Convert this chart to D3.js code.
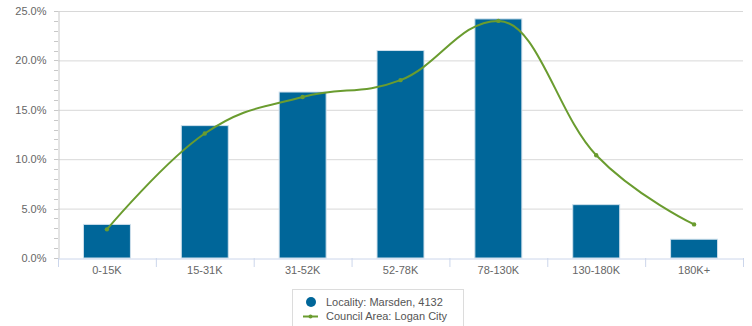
<!DOCTYPE html>
<html><head><meta charset="utf-8">
<script src="https://cdn.jsdelivr.net/npm/d3@7"></script>
<style>body{margin:0;background:#fff}svg{display:block;font-family:"Liberation Sans",Arial,sans-serif}</style>
</head><body><svg id="c" width="752" height="326"></svg>
<script>
const categories = ["0-15K","15-31K","31-52K","52-78K","78-130K","130-180K","180K+"];
const localityValues = [3.4,13.4,16.8,21.0,24.2,5.4,1.9];
const councilValues = [2.9,12.6,16.3,18.0,24.0,10.4,3.4];
const yTicks = [0,5,10,15,20,25];
const seriesNames = ["Locality: Marsden, 4132","Council Area: Logan City"];

const svg = d3.select("#c");
const L = 58, R = 743, T = 11, B = 258;
const x = d3.scaleBand().domain(categories).range([L,R]).paddingInner(0.52).paddingOuter(0.26);
const xb = d3.scaleBand().domain(categories).range([L,R]);
const y = d3.scaleLinear().domain([0,25]).range([B,T]);

// gridlines
svg.append("g").selectAll("line").data(yTicks.filter(d=>d>0)).join("line")
  .attr("x1",L).attr("x2",R).attr("y1",d=>y(d)+0.5).attr("y2",d=>y(d)+0.5)
  .attr("stroke","#d8d8d8").attr("stroke-width",1);

// y axis
const yAxis = d3.axisLeft(y).tickValues(yTicks).tickFormat(d=>d.toFixed(1)+"%").tickSize(0).tickPadding(12);
const gy = svg.append("g").attr("transform",`translate(${L+0.5},0)`).call(yAxis);
gy.select(".domain").attr("stroke","#c8c8c8");
gy.selectAll("text").attr("fill","#666").attr("font-size","11px");
// minor ticks
const minor = d3.range(0,25.01,1);
svg.append("g").selectAll("line").data(minor).join("line")
  .attr("x1",L-4).attr("x2",L).attr("y1",d=>Math.round(y(d))+0.5).attr("y2",d=>Math.round(y(d))+0.5)
  .attr("stroke","#c8c8c8");

// bars
svg.append("g").selectAll("rect").data(categories).join("rect")
  .attr("x",d=>x(d)).attr("width",x.bandwidth())
  .attr("y",(d,i)=>y(localityValues[i])).attr("height",(d,i)=>B-y(localityValues[i]))
  .attr("fill","#006699").attr("stroke","#cfe0ec").attr("stroke-width",1);

// x axis
const gx = svg.append("g").attr("transform",`translate(0,${B+0.5})`)
  .call(d3.axisBottom(xb).tickSize(0).tickPadding(8));
gx.select(".domain").attr("stroke","#ccd6eb");
gx.selectAll("text").attr("fill","#666").attr("font-size","11px");
svg.append("g").selectAll("line").data(categories.concat(["end"])).join("line")
  .attr("x1",(d,i)=>L+i*xb.step()+0.5).attr("x2",(d,i)=>L+i*xb.step()+0.5)
  .attr("y1",B).attr("y2",B+9).attr("stroke","#ccd6eb");

// spline (Highcharts-style smoothing, no false extremes)
function splinePath(p){
  const s=1.5, den=2.5, n=p.length;
  const ctl = p.map((pt,i)=>{
    if(i===0||i===n-1) return null;
    const [lx,ly]=p[i-1],[px,py]=pt,[nx,ny]=p[i+1];
    let lcx=(s*px+lx)/den, lcy=(s*py+ly)/den, rcx=(s*px+nx)/den, rcy=(s*py+ny)/den;
    const corr=((rcy-lcy)*(rcx-px))/(rcx-lcx)+py-rcy; lcy+=corr; rcy+=corr;
    if(lcy>ly&&lcy>py){lcy=Math.max(ly,py);rcy=2*py-lcy;}
    else if(lcy<ly&&lcy<py){lcy=Math.min(ly,py);rcy=2*py-lcy;}
    if(rcy>ny&&rcy>py){rcy=Math.max(ny,py);lcy=2*py-rcy;}
    else if(rcy<ny&&rcy<py){rcy=Math.min(ny,py);lcy=2*py-rcy;}
    return {lcx,lcy,rcx,rcy};
  });
  let d=`M${p[0][0]},${p[0][1]}`;
  for(let i=1;i<n;i++){
    const a=ctl[i-1], b=ctl[i];
    const c1=a?[a.rcx,a.rcy]:p[i-1], c2=b?[b.lcx,b.lcy]:p[i];
    d+=`C${c1[0]},${c1[1]},${c2[0]},${c2[1]},${p[i][0]},${p[i][1]}`;
  }
  return d;
}
const pts = categories.map((c,i)=>[xb(c)+xb.bandwidth()/2, y(councilValues[i])]);
svg.append("path").attr("d",splinePath(pts))
  .attr("fill","none").attr("stroke","#6a9c2f").attr("stroke-width",2);
svg.append("g").selectAll("circle").data(pts).join("circle")
  .attr("cx",d=>d[0]).attr("cy",d=>d[1]).attr("r",2.2).attr("fill","#6a9c2f");

// legend
const lg = svg.append("g");
lg.append("rect").attr("x",292.5).attr("y",289.5).attr("width",171).attr("height",40)
  .attr("fill","#fff").attr("stroke","#dcdcdc");
lg.append("circle").attr("cx",311).attr("cy",302).attr("r",5).attr("fill","#006699");
lg.append("line").attr("x1",303).attr("x2",318).attr("y1",316.5).attr("y2",316.5).attr("stroke","#6a9c2f").attr("stroke-width",2);
lg.append("circle").attr("cx",310.5).attr("cy",316.5).attr("r",2).attr("fill","#6a9c2f");
lg.selectAll("text").data(seriesNames).join("text")
  .attr("x",326).attr("y",(d,i)=>306+i*14).text(d=>d)
  .attr("fill","#555").attr("font-size","11px");
</script></body></html>
